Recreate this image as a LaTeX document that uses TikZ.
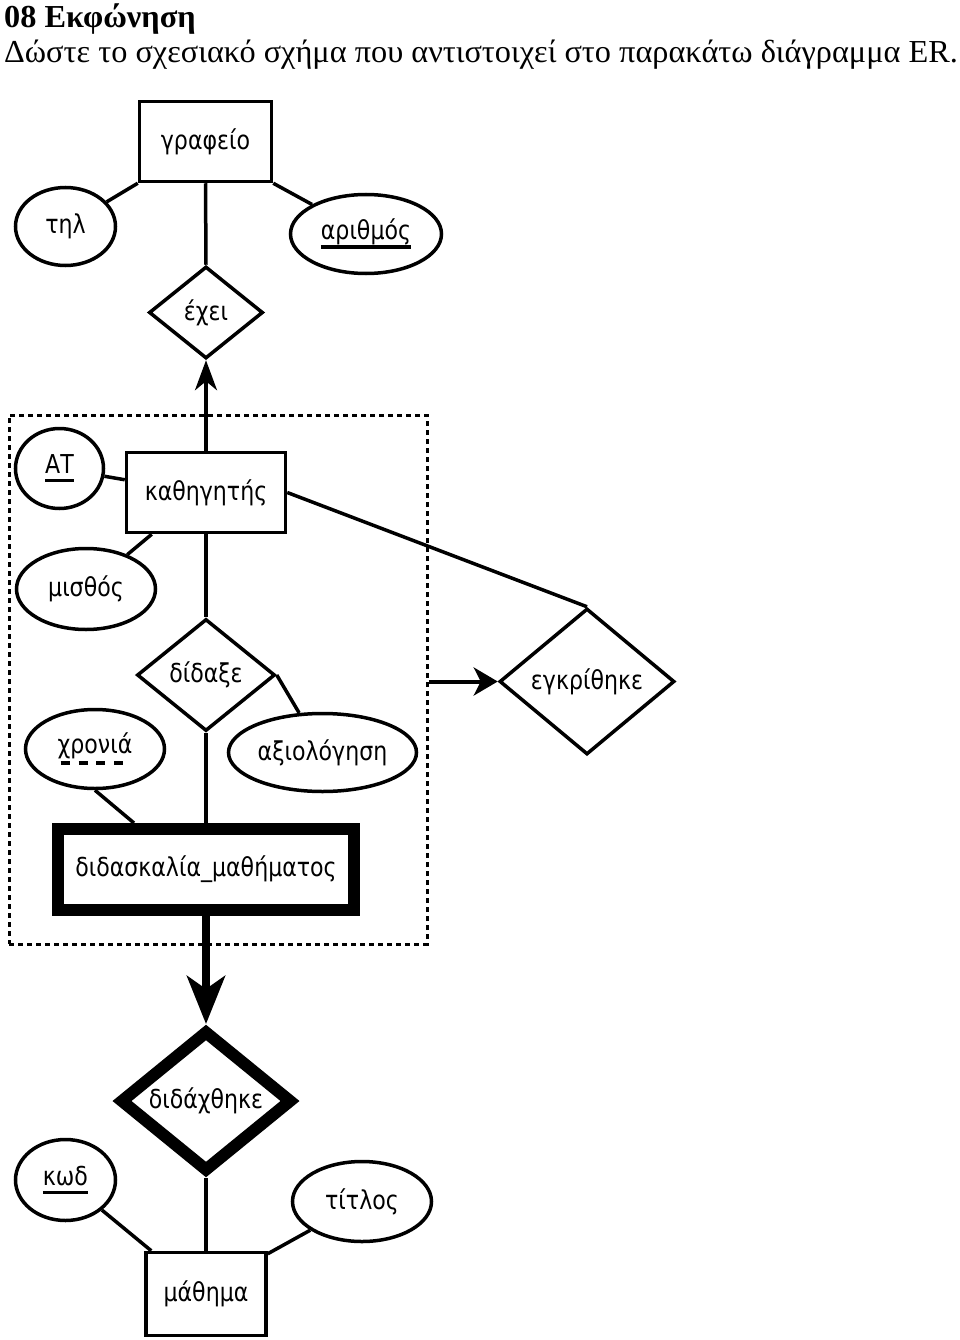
\documentclass[tikz,border=0pt]{standalone}
\usepackage{fontspec}
\setmainfont{Liberation Serif}
\newfontfamily\erfont[FakeStretch=0.85]{DejaVu Sans}
\newfontfamily\titlefont[FakeStretch=1.01]{Liberation Serif}
\usetikzlibrary{shapes.geometric,arrows.meta}
\newcommand\keyul[1]{\setbox0\hbox{#1}\rlap{\rule[-9pt]{\wd0}{3.5pt}}\box0}
\newcommand\keydash[1]{\setbox0\hbox{#1}\rlap{\hbox to \wd0{\xleaders\hbox{\rule[-11pt]{9pt}{3.5pt}\hspace{6pt}}\hfill}}\box0}
\begin{document}
\begin{tikzpicture}[x=1pt,y=-1pt,
  erfnt/.style={font={\erfont\fontsize{26}{30}\selectfont}},
  ent/.style={draw, rectangle, line width=3.5pt, inner sep=0pt, erfnt},
  weakent/.style={draw, rectangle, line width=12pt, inner sep=0pt, erfnt},
  attr/.style={draw, ellipse, line width=3.5pt, inner sep=0pt, erfnt},
  rel/.style={draw, diamond, line width=3.5pt, inner sep=0pt, erfnt},
  weakrel/.style={draw, diamond, line width=12pt, inner sep=0pt, erfnt, miter limit=10},
  conn/.style={line width=3.5pt},
  aggbox/.style={draw, rectangle, line width=3pt, dash pattern=on 5pt off 4pt, inner sep=0pt}]
\useasboundingbox (0,0) rectangle (960,1340);
% title
\node[anchor=base west, inner sep=0pt, font={\titlefont\bfseries\fontsize{32}{36}\selectfont}] (t1) at (4,28) {08 Εκφώνηση};
\node[anchor=base west, inner sep=0pt, font={\titlefont\fontsize{32}{36}\selectfont}] (t2) at (4,63) {Δώστε το σχεσιακό σχήμα που αντιστοιχεί στο παρακάτω διάγραμμα ER.};
% top part
\node[ent, minimum width=132pt, minimum height=80pt] (graf) at (205.5,141.5) {γραφείο};
\node[attr, minimum width=100pt, minimum height=78pt] (til) at (65.5,226.5) {τηλ};
\node[attr, minimum width=151pt, minimum height=79pt] (arith) at (366,234) {\keyul{αριθμός}};
\node[rel, minimum width=114pt, minimum height=92pt, aspect=1.24] (exei) at (206,312.5) {έχει};
% aggregation
\node[aggbox, minimum width=418pt, minimum height=529pt] (agg) at (218,679.5) {};
\node[attr, minimum width=88pt, minimum height=80pt] (AT) at (59.5,468.5) {\keyul{ΑΤ}};
\node[ent, minimum width=159pt, minimum height=80pt] (kath) at (206,492.5) {καθηγητής};
\node[attr, minimum width=139pt, minimum height=81pt] (misth) at (86,589) {μισθός};
\node[rel, minimum width=138pt, minimum height=112pt, aspect=1.23] (didaxe) at (206,675) {δίδαξε};
\node[attr, minimum width=139pt, minimum height=79pt] (xron) at (95,749) {\keydash{χρονιά}};
\node[attr, minimum width=188pt, minimum height=78pt] (axiol) at (322.5,752.5) {αξιολόγηση};
\node[weakent, minimum width=296pt, minimum height=81pt] (didask) at (206,869.5) {διδασκαλία\_μαθήματος};
% right
\node[rel, minimum width=175pt, minimum height=146pt, aspect=1.2] (egkr) at (587,681.5) {εγκρίθηκε};
% bottom part
\node[weakrel, minimum width=173pt, minimum height=142pt, aspect=1.22] (didax) at (206,1101) {διδάχθηκε};
\node[attr, minimum width=100pt, minimum height=81pt] (kod) at (65.5,1180) {\keyul{κωδ}};
\node[attr, minimum width=139pt, minimum height=80pt] (titl) at (362,1201.5) {τίτλος};
\node[ent, minimum width=120pt, minimum height=83pt] (math) at (206,1294) {μάθημα};
% connectors
\draw[conn] (til) -- (graf.south west);
\draw[conn] (arith) -- (graf.south east);
\draw[conn] (graf.south) -- (exei.north);
\draw[conn, -{Stealth[length=30pt, width=22pt, inset=9pt]}] (kath.north) -- (exei.south);
\draw[conn] (AT) -- ([yshift=-29pt]kath.north west);
\draw[conn] (misth) -- ([xshift=27pt]kath.south west);
\draw[conn] (kath.south) -- (didaxe.north);
\draw[conn] (didaxe.east) -- (axiol);
\draw[conn] (xron.south) -- ([xshift=82pt]didask.north west);
\draw[conn] (didaxe.south) -- (didask.north);
\draw[conn] (kath.east) -- (egkr.north);
\draw[line width=4pt, -{Stealth[length=24pt, width=28pt, inset=7pt]}] (agg.east |- egkr.west) -- (egkr.west);
\draw[line width=8pt, -{Stealth[length=48pt, width=38pt, inset=13pt]}] (didask.south) -- (didax.north);
\draw[conn] (didax.south) -- (math.north);
\draw[conn] (kod) -- ([xshift=7pt]math.north west);
\draw[conn] (titl) -- ([yshift=-3pt]math.north east);
\end{tikzpicture}
\end{document}
